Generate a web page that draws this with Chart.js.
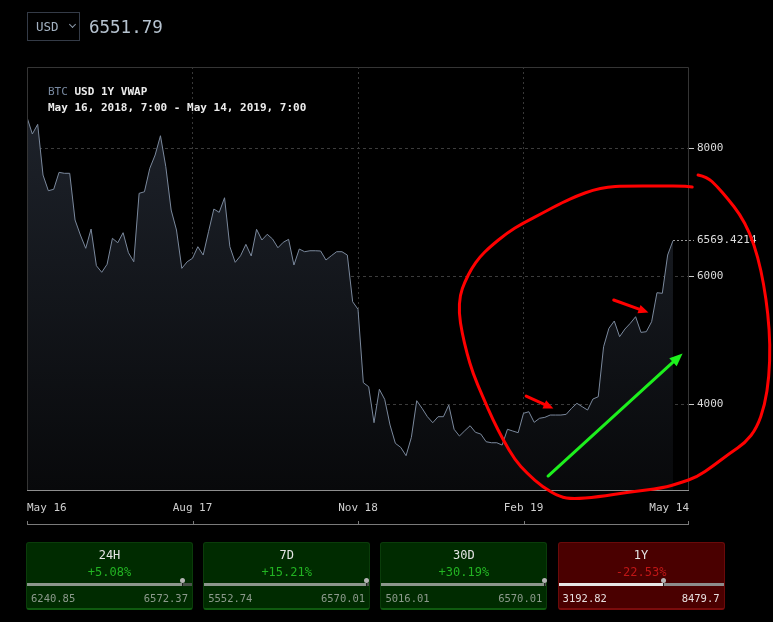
<!DOCTYPE html>
<html><head><meta charset="utf-8">
<script src="https://cdn.jsdelivr.net/npm/chart.js@4/dist/chart.umd.min.js"></script>
<style>
html,body{margin:0;padding:0;background:#000;width:773px;height:622px;overflow:hidden;}
#wrap{position:relative;width:773px;height:622px;background:#000;}
#c{position:absolute;left:0;top:0;}
.mono{font-family:"DejaVu Sans Mono",monospace;}
#usd{position:absolute;left:27px;top:12px;width:53px;height:29px;box-sizing:border-box;border:1px solid #343b47;}
#usd span{position:absolute;left:8px;top:6px;font-size:12.5px;line-height:15px;color:#a3b2c2;}
#usd i{position:absolute;left:42px;top:9px;width:4px;height:4px;border-right:1px solid #8a98a8;border-bottom:1px solid #8a98a8;transform:rotate(45deg);}
#price{position:absolute;left:89px;top:16px;font-size:17.5px;line-height:22px;color:#b6c3d0;}
#hdr1,#hdr2{position:absolute;left:48px;font-size:11px;line-height:14px;white-space:pre;}
#hdr1{top:85px;color:#ececec;font-weight:bold;}
#hdr1 span{color:#7889a0;font-weight:normal;}
#hdr2{top:101px;color:#ececec;font-weight:bold;}
.card{position:absolute;top:542px;width:167px;height:68px;box-sizing:border-box;border-radius:3px;}
.card.up{background:#002b00;border:1px solid #0a3c0a;border-bottom:2px solid #0f5a0f;}
.card.down{background:#4a0000;border:1px solid #6a0a0a;border-bottom:2px solid #7a0c0c;}
.card .t{position:absolute;left:0;right:0;top:5px;text-align:center;font-size:12px;line-height:15px;color:#e4e4e4;}
.card .p{position:absolute;left:0;right:0;top:22px;text-align:center;font-size:12px;line-height:15px;}
.card.up .p{color:#22b422;}
.card.down .p{color:#c01616;}
.card .bar{position:absolute;left:0px;right:0px;top:40px;height:3px;}
.card .mk{position:absolute;top:35px;width:5px;height:5px;border-radius:50%;background:#b4b4b4;margin-left:-2.5px;}
.card .mkl{position:absolute;top:38px;width:1px;height:5px;background:#222;}
.card .lo,.card .hi{position:absolute;top:48px;font-size:10.5px;line-height:14px;}
.card .lo{left:4px;}
.card .hi{right:4px;}
.card.up .lo,.card.up .hi{color:#8c9a8c;}
.card.down .lo,.card.down .hi{color:#e6dede;}
</style></head><body>
<div id="wrap">
<canvas id="c" width="773" height="622"></canvas>
<div id="usd" class="mono"><span>USD</span><i></i></div>
<div id="price" class="mono"></div>
<div id="hdr1" class="mono"><span>BTC</span> USD 1Y VWAP</div>
<div id="hdr2" class="mono">May 16, 2018, 7:00 - May 14, 2019, 7:00</div>
<div id="cards"></div>
</div>
<script>
// ---- data ----
const prices = [8480,8219,8370,7578,7333,7355,7620,7605,7605,6875,
6641,6433,6734,6161,6058,6183,6589,6520,6677,6364,
6223,7292,7317,7683,7891,8192,7708,7031,6719,6120,
6223,6277,6458,6328,6692,7047,6995,7223,6458,6214,
6317,6495,6313,6730,6563,6652,6578,6442,6527,6573,
6172,6422,6380,6395,6395,6391,6250,6317,6380,6380,
6328,5598,5480,4333,4270,3708,4230,4073,3672,3386,
3323,3193,3480,4052,3933,3802,3708,3802,3802,3984,
3605,3500,3583,3661,3558,3531,3411,3395,3395,3359,
3605,3578,3552,3855,3880,3714,3777,3792,3828,3828,
3828,3839,3933,4011,3958,3906,4078,4114,4895,5183,
5297,5052,5172,5261,5364,5120,5130,5286,5739,5730,
6328,6552];
const xTickPos = [0, 31, 62, 93, 124];
const xTickLabels = ['May 16', 'Aug 17', 'Nov 18', 'Feb 19', 'May 14'];
const yTickVals = [4000, 6000, 8000];
const yRange = [2641, 9266];
const lastMarkValue = 6569.4214;
const currentPrice = 6551.79;
const cardLabels = ['24H', '7D', '30D', '1Y'];
const cardChanges = ['+5.08%', '+15.21%', '+30.19%', '-22.53%'];
const cardLows = [6240.85, 5552.74, 5016.01, 3192.82];
const cardHighs = [6572.37, 6570.01, 6570.01, 8479.7];
// hand-drawn annotations, in data units [index, price]
const redLoop = [[125.7,7578],[127.4,7547],[129.2,7406],[131.3,7203],[133.5,6969],[135.4,6672],[136.9,6297],[138.0,5875],[138.8,5406],[139.2,4922],[139.0,4422],[138.2,3984],[136.7,3625],[134.5,3391],[131.7,3234],[128.5,3031],[125.5,2859],[122.3,2766],[119.1,2688],[112.9,2625],[106.8,2547],[102.3,2516],[99.8,2547],[96.6,2703],[93.6,2922],[91.4,3125],[89.2,3438],[87.3,3750],[85.4,4109],[83.5,4484],[82.4,4797],[81.5,5109],[80.9,5422],[81.1,5703],[82.0,5906],[83.3,6125],[84.8,6297],[86.7,6453],[89.9,6672],[92.9,6828],[96.6,6984],[100.4,7156],[103.0,7250],[106.0,7344],[108.8,7391],[111.6,7406],[119.1,7406],[122.9,7406],[124.6,7391]];
const redArrows = [[[93.5,4125],[98.6,3930]], [[109.9,5625],[116.4,5430]]];
const greenArrow = [[97.6,2875],[122.8,4790]];

document.getElementById('price').textContent = String(currentPrice);

// cards
const cardsEl = document.getElementById('cards');
cardLabels.forEach((lab, i) => {
  const up = !cardChanges[i].startsWith('-');
  const frac = (currentPrice - cardLows[i]) / (cardHighs[i] - cardLows[i]);
  const d = document.createElement('div');
  d.className = 'card mono ' + (up ? 'up' : 'down');
  d.style.left = (26 + i * 177.2) + 'px';
  const w = 165;
  const mx = frac * w;
  const lc = up ? '#8c968c' : '#e6e6e6';
  const rc = up ? '#4a524a' : '#8c8c8c';
  d.innerHTML = '<div class="t">' + lab + '</div><div class="p">' + cardChanges[i] + '</div>' +
    '<div class="bar" style="background:linear-gradient(to right,' + lc + ' 0,' + lc + ' ' + mx + 'px,' + rc + ' ' + mx + 'px,' + rc + ' 100%)"></div>' +
    '<div class="mkl" style="left:' + mx + 'px"></div><div class="mk" style="left:' + (mx + 0.5) + 'px"></div>' +
    '<div class="lo">' + String(cardLows[i]) + '</div><div class="hi">' + String(cardHighs[i]) + '</div>';
  cardsEl.appendChild(d);
});

function smoothPath(ctx, pts) {
  ctx.moveTo(pts[0][0], pts[0][1]);
  for (let i = 1; i < pts.length - 1; i++) {
    const mx = (pts[i][0] + pts[i + 1][0]) / 2, my = (pts[i][1] + pts[i + 1][1]) / 2;
    ctx.quadraticCurveTo(pts[i][0], pts[i][1], mx, my);
  }
  const l = pts[pts.length - 1];
  ctx.lineTo(l[0], l[1]);
}
function arrow(ctx, a, b, color, w, hl, hw) {
  const ang = Math.atan2(b[1] - a[1], b[0] - a[0]);
  const bx = b[0] - Math.cos(ang) * hl, by = b[1] - Math.sin(ang) * hl;
  ctx.strokeStyle = color; ctx.fillStyle = color; ctx.lineWidth = w; ctx.lineCap = 'round';
  ctx.beginPath(); ctx.moveTo(a[0], a[1]); ctx.lineTo(bx, by); ctx.stroke();
  ctx.beginPath();
  ctx.moveTo(b[0], b[1]);
  ctx.lineTo(bx + Math.sin(ang) * hw / 2, by - Math.cos(ang) * hw / 2);
  ctx.lineTo(bx - Math.sin(ang) * hw / 2, by + Math.cos(ang) * hw / 2);
  ctx.closePath(); ctx.fill();
}

const overlay = {
  id: 'overlay',
  afterDraw(chart) {
    const { ctx, chartArea: a, scales: { x, y } } = chart;
    ctx.save();
    // frame
    ctx.lineWidth = 1; ctx.strokeStyle = '#353535';
    ctx.beginPath();
    ctx.moveTo(a.left + 0.5, a.bottom); ctx.lineTo(a.left + 0.5, a.top + 0.5);
    ctx.lineTo(a.right - 0.5, a.top + 0.5); ctx.lineTo(a.right - 0.5, a.bottom);
    ctx.stroke();
    ctx.strokeStyle = '#8e8e8e';
    ctx.beginPath(); ctx.moveTo(a.left, a.bottom - 0.5); ctx.lineTo(a.right, a.bottom - 0.5); ctx.stroke();
    // ruler below labels
    const ry = a.bottom + 34;
    const x0 = x.getPixelForValue(xTickPos[0]), x1 = x.getPixelForValue(xTickPos[xTickPos.length - 1]);
    ctx.strokeStyle = '#7a7a7a';
    ctx.beginPath(); ctx.moveTo(x0, ry - 0.5); ctx.lineTo(x1, ry - 0.5); ctx.stroke();
    xTickPos.forEach(v => {
      const px = Math.round(x.getPixelForValue(v)) + 0.5;
      ctx.beginPath(); ctx.moveTo(Math.min(Math.max(px, x0 + 0.5), x1 - 0.5), ry - 4); ctx.lineTo(Math.min(Math.max(px, x0 + 0.5), x1 - 0.5), ry); ctx.stroke();
    });
    // last value marker
    const ly = Math.round(y.getPixelForValue(lastMarkValue)) + 0.5;
    const lx = x.getPixelForValue(prices.length - 1);
    ctx.strokeStyle = '#9a9a9a'; ctx.setLineDash([2, 2]);
    ctx.beginPath(); ctx.moveTo(lx, ly); ctx.lineTo(a.right + 5, ly); ctx.stroke();
    ctx.setLineDash([]);
    ctx.fillStyle = '#dcdcdc'; ctx.font = '11px "DejaVu Sans Mono"'; ctx.textBaseline = 'middle'; ctx.textAlign = 'left';
    ctx.fillText(String(lastMarkValue), a.right + 8, ly);
    // annotations
    const P = p => [x.getPixelForValue(p[0]), y.getPixelForValue(p[1])];
    ctx.strokeStyle = '#ff0000'; ctx.lineWidth = 3; ctx.lineJoin = 'round'; ctx.lineCap = 'round';
    ctx.beginPath(); smoothPath(ctx, redLoop.map(P)); ctx.stroke();
    redArrows.forEach(ar => arrow(ctx, P(ar[0]), P(ar[1]), '#ff0000', 3, 10, 9));
    arrow(ctx, P(greenArrow[0]), P(greenArrow[1]), '#1df01d', 3, 13, 11);
    ctx.restore();
  }
};

const ctx = document.getElementById('c').getContext('2d');
new Chart(ctx, {
  type: 'line',
  data: {
    datasets: [{
      data: prices.map((v, i) => ({ x: i, y: v })),
      borderColor: '#7a889c',
      borderWidth: 1,
      pointRadius: 0,
      tension: 0,
      fill: 'start',
      backgroundColor: (c) => {
        const ar = c.chart.chartArea;
        if (!ar) return '#161a20';
        const g = c.chart.ctx.createLinearGradient(0, ar.top, 0, ar.bottom);
        g.addColorStop(0, '#20252e');
        g.addColorStop(1, '#08090b');
        return g;
      }
    }]
  },
  options: {
    responsive: false,
    animation: false,
    events: [],
    layout: { padding: { left: 27, top: 67, right: 0, bottom: 0 } },
    plugins: { legend: { display: false }, tooltip: { enabled: false } },
    scales: {
      x: {
        type: 'linear', min: xTickPos[0], max: xTickPos[xTickPos.length - 1], z: 1,
        afterBuildTicks: s => { s.ticks = xTickPos.map(v => ({ value: v })); },
        afterFit: s => { s.height = 131; },
        ticks: {
          callback: (v, i) => xTickLabels[i], align: 'inner', autoSkip: false, maxRotation: 0,
          color: '#cfcfcf', font: { family: 'DejaVu Sans Mono', size: 11 }, padding: 11
        },
        grid: {
          color: c => (c.index === 0 || c.index === xTickPos.length - 1) ? 'rgba(0,0,0,0)' : '#383838',
          drawTicks: false, lineWidth: 1
        },
        border: { display: false, dash: [2, 3] }
      },
      y: {
        position: 'right', min: yRange[0], max: yRange[1], z: 1,
        afterBuildTicks: s => { s.ticks = yTickVals.map(v => ({ value: v })); },
        afterFit: s => { s.width = 84; },
        ticks: { color: '#dcdcdc', font: { family: 'DejaVu Sans Mono', size: 11 }, padding: 3, callback: v => String(v) },
        grid: { color: '#3c3c3c', tickColor: '#c8c8c8', tickLength: 5, drawTicks: true, lineWidth: 1 },
        border: { display: false, dash: [3, 3] }
      }
    }
  },
  plugins: [overlay]
});
</script>
</body></html>
